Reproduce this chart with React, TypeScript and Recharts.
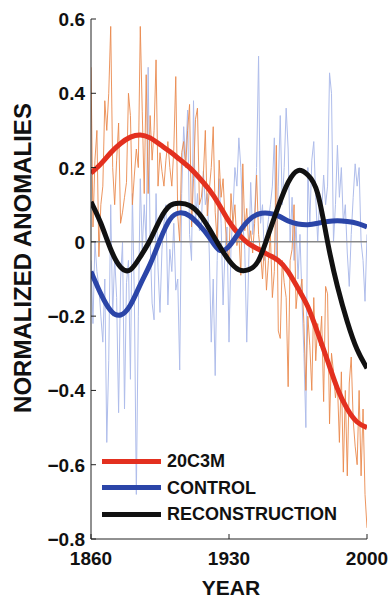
import { LineChart, Line, XAxis, YAxis, ReferenceLine } from "recharts";

// annual values, 1860..2000
const years = Array.from({ length: 141 }, (_, i) => 1860 + i);

const c20Annual = [
  0.47, 0.04, 0.22, 0.30, -0.04, 0.10, 0.15, 0.38, 0.30, 0.40,
  0.58, 0.20, 0.10, 0.22, 0.32, 0.05, 0.08, 0.12, 0.16, 0.40,
  0.34, 0.10, 0.18, 0.25, 0.20, 0.58, 0.35, 0.13, 0.45, 0.13,
  0.34, 0.22, 0.30, 0.49, 0.15, 0.24, 0.19, 0.15, 0.22, 0.27,
  0.20, 0.15, 0.25, 0.445, 0.07, 0.00, 0.24, 0.27, 0.20, 0.30,
  0.37, 0.04, 0.17, 0.33, 0.36, 0.10, 0.12, 0.18, 0.30, 0.07,
  0.14, 0.20, 0.31, 0.08, 0.00, 0.22, 0.12, 0.17, 0.06, -0.02,
  -0.04, 0.13, 0.05, 0.10, -0.01, 0.02, -0.09, 0.21, 0.03, 0.09,
  -0.01, 0.03, -0.03, 0.05, 0.18, 0.02, -0.03, -0.10, 0.00, -0.13,
  -0.05, 0.02, -0.15, -0.08, 0.26, -0.24, -0.26, -0.05, -0.11, -0.15,
  -0.39, -0.05, -0.02, 0.10, -0.18, -0.12, -0.14, -0.10, -0.22, -0.40,
  -0.20, -0.28, -0.40, -0.15, -0.32, -0.22, -0.28, -0.20, -0.43, -0.12,
  -0.14, -0.49, -0.30, -0.35, -0.42, -0.38, -0.54, -0.35, -0.62, -0.40,
  -0.63, -0.38, -0.31, -0.48, -0.55, -0.60, -0.40, -0.63, -0.45, -0.68,
  -0.77,
];

const controlAnnual = [
  -0.05, -0.22, 0.00, -0.08, -0.12, -0.20, -0.27, -0.10, -0.54, -0.32,
  0.10, -0.20, -0.04, -0.15, -0.46, -0.10, 0.00, -0.45, -0.11, -0.05,
  -0.37, 0.13, -0.15, -0.68, -0.20, 0.17, -0.02, 0.10, 0.00, 0.47,
  0.00, -0.165, -0.21, 0.13, -0.07, -0.19, -0.02, 0.05, 0.10, -0.17,
  -0.02, -0.08, 0.05, -0.13, -0.10, -0.345, 0.13, 0.31, 0.22, 0.355,
  0.02, -0.05, 0.38, 0.05, 0.13, 0.03, 0.05, 0.19, 0.10, 0.13,
  -0.03, -0.27, -0.10, -0.36, -0.05, 0.17, 0.05, -0.17, -0.02, 0.04,
  -0.27, -0.02, 0.08, 0.20, 0.15, 0.28, 0.20, 0.05, -0.02, -0.27,
  -0.06, 0.16, 0.02, 0.08, 0.20, 0.50, 0.05, 0.10, -0.05, 0.02,
  0.06, 0.10, 0.15, 0.28, -0.05, 0.15, 0.34, 0.10, 0.20, 0.36,
  0.25, 0.00, 0.12, -0.05, 0.05, -0.10, 0.02, -0.15, -0.30, -0.50,
  0.20, 0.05, 0.22, 0.27, 0.12, 0.00, 0.12, 0.08, 0.18, 0.10,
  0.15, 0.455, 0.40, 0.00, 0.10, 0.26, 0.12, 0.20, 0.05, 0.10,
  -0.03, -0.12, 0.02, 0.12, 0.21, 0.15, 0.20, 0.00, -0.05, -0.16,
  0.02,
];

// smoothed curves, every 5 years
const smoothYears = Array.from({ length: 29 }, (_, i) => 1860 + i * 5);

const c20Smooth = [
  0.185, 0.21, 0.24, 0.265, 0.282, 0.288, 0.28, 0.262, 0.243, 0.222,
  0.2, 0.172, 0.14, 0.1, 0.055, 0.02, -0.005, -0.02, -0.035, -0.05,
  -0.08, -0.125, -0.175, -0.245, -0.32, -0.395, -0.45, -0.485, -0.5,
];
const controlSmooth = [
  -0.08, -0.14, -0.185, -0.197, -0.17, -0.115, -0.06, 0.005, 0.06, 0.078,
  0.07, 0.045, 0.012, -0.022, -0.012, 0.025, 0.058, 0.075, 0.077, 0.07,
  0.056, 0.048, 0.046, 0.05, 0.055, 0.057, 0.055, 0.05, 0.04,
];
const reconSmooth = [
  0.108, 0.05, -0.02, -0.068, -0.075, -0.04, 0.005, 0.06, 0.097, 0.104,
  0.098, 0.075, 0.035, -0.01, -0.05, -0.075, -0.075, -0.05, 0.02, 0.095,
  0.16, 0.192, 0.18, 0.13, 0.0, -0.12, -0.215, -0.29, -0.34,
];

const xTicks = [1860, 1930, 2000];
const yTicks = [-0.8, -0.6, -0.4, -0.2, 0, 0.2, 0.4, 0.6];

const legendItems = [
  { name: "20C3M", color: "#E3301F" },
  { name: "CONTROL", color: "#2B45A8" },
  { name: "RECONSTRUCTION", color: "#111111" },
];

const annual = years.map((year, i) => ({
  year,
  c20Raw: c20Annual[i],
  ctlRaw: controlAnnual[i],
}));

const smooth = smoothYears.map((year, i) => ({
  year,
  c20: c20Smooth[i],
  ctl: controlSmooth[i],
  rec: reconSmooth[i],
}));

const font = "'Liberation Sans', Arial, Helvetica, sans-serif";

const fmt = (v: number) =>
  v === 0 ? "0" : (v < 0 ? "\u2212" : "") + Math.abs(v).toFixed(1);

const YTick = (props: any) => {
  const { x, y, payload } = props;
  return (
    <g>
      <line x1={x + 6} x2={x + 11} y1={y} y2={y} stroke="#222" strokeWidth={1} />
      <text x={x} y={y} dy={7} textAnchor="end" fontFamily={font} fontWeight="bold" fontSize={19} fill="#111">
        {fmt(payload.value)}
      </text>
    </g>
  );
};

const XTick = (props: any) => {
  const { x, y, payload } = props;
  return (
    <g>
      <line x1={x} x2={x} y1={y} y2={y - 5} stroke="#222" strokeWidth={1} />
      <text x={x} y={y} dy={26} textAnchor="middle" fontFamily={font} fontWeight="bold" fontSize={19} fill="#111">
        {payload.value}
      </text>
    </g>
  );
};

const LegendBox = () => (
  <div
    style={{
      position: "absolute",
      left: 102,
      top: 448,
      fontFamily: font,
      fontWeight: "bold",
      fontSize: 18,
      color: "#111",
    }}
  >
    {legendItems.map((it) => (
      <div key={it.name} style={{ display: "flex", alignItems: "center", height: 26.5 }}>
        <div style={{ width: 59, height: 5, background: it.color, marginRight: 6 }} />
        <span style={{ lineHeight: "18px" }}>{it.name}</span>
      </div>
    ))}
  </div>
);

export default function App() {
  return (
    <div style={{ position: "absolute", left: 0, top: 0, width: 391, height: 598, background: "#fff" }}>
      <LineChart width={391} height={598} margin={{ top: 19, right: 24, bottom: 29, left: 0 }}>
        <XAxis
          dataKey="year"
          type="number"
          domain={[1860, 2000]}
          ticks={xTicks}
          allowDataOverflow
          height={30}
          stroke="#222"
          tickLine={false}
          tickSize={0}
          tickMargin={0}
          tick={<XTick />}
          label={() => (
            <text x={231} y={595} textAnchor="middle" fontFamily={font} fontWeight="bold" fontSize={21} fill="#111">
              YEAR
            </text>
          )}
        />
        <YAxis
          type="number"
          domain={[-0.8, 0.6]}
          ticks={yTicks}
          allowDataOverflow
          width={91}
          stroke="#222"
          tickLine={false}
          tickSize={0}
          tickMargin={6}
          tick={<YTick />}
          label={() => (
            <text
              x={22}
              y={258}
              transform="rotate(-90 22 258)"
              textAnchor="middle"
              dominantBaseline="central"
              fontFamily={font}
              fontWeight="bold"
              fontSize={24}
              fill="#111"
            >
              NORMALIZED ANOMALIES
            </text>
          )}
        />
        <Line data={annual} dataKey="ctlRaw" stroke="#AFBDEB" strokeWidth={1} dot={false} activeDot={false} isAnimationActive={false} />
        <Line data={annual} dataKey="c20Raw" stroke="#EA8A4E" strokeWidth={1} strokeOpacity={0.9} dot={false} activeDot={false} isAnimationActive={false} />
        <ReferenceLine y={0} stroke="#888" strokeWidth={1.5} />
        <Line data={smooth} dataKey="c20" type="natural" stroke="#E3301F" strokeWidth={5} dot={false} activeDot={false} isAnimationActive={false} />
        <Line data={smooth} dataKey="ctl" type="natural" stroke="#2B45A8" strokeWidth={5} dot={false} activeDot={false} isAnimationActive={false} />
        <Line data={smooth} dataKey="rec" type="natural" stroke="#111111" strokeWidth={5} dot={false} activeDot={false} isAnimationActive={false} />
      </LineChart>
      <LegendBox />
    </div>
  );
}
